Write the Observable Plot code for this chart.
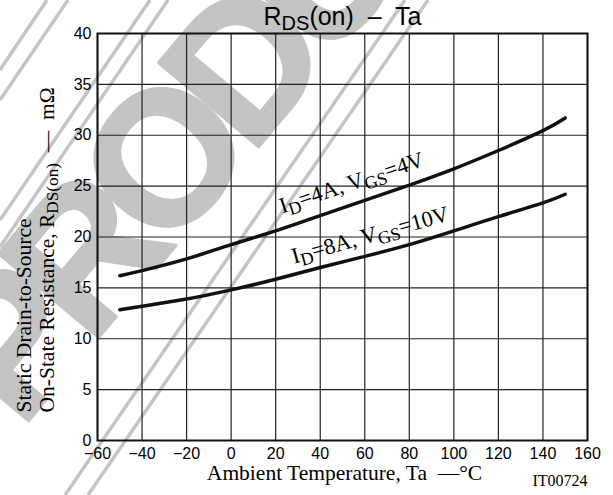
<!DOCTYPE html>
<html>
<head>
<meta charset="utf-8">
<script src="https://cdn.jsdelivr.net/npm/d3@7"></script>
<script src="https://cdn.jsdelivr.net/npm/@observablehq/plot@0.6"></script>
<style>
  html, body { margin: 0; padding: 0; background: #fff; }
  #chart { width: 613px; height: 495px; overflow: hidden; }
  #chart text { white-space: pre; }
</style>
</head>
<body>
<div id="chart"></div>
<script>
// Ambient temperature (°C) and on-state resistance (mΩ) for two bias conditions
const temperature = [-50, -40, -20, 0, 20, 40, 60, 80, 100, 120, 140, 150];
const rdsId4Vgs4 = [16.2, 16.7, 17.85, 19.25, 20.6, 22.1, 23.6, 25.1, 26.7, 28.5, 30.45, 31.7];
const rdsId8Vgs10 = [12.85, 13.2, 13.9, 14.8, 15.85, 17.0, 18.1, 19.25, 20.6, 22.0, 23.35, 24.2];

const xTicks = [-60, -40, -20, 0, 20, 40, 60, 80, 100, 120, 140, 160];
const yTicks = [0, 5, 10, 15, 20, 25, 30, 35, 40];

// "_{...}" marks a subscript run
const seriesLabels = ["I_{D}=4A, V_{GS}=4V", "I_{D}=8A, V_{GS}=10V"];
const titleText = "R_{DS}(on)  –  Ta";
const yTitleLines = ["Static Drain-to-Source", "On-State Resistance, R_{DS(on)}  —  mΩ"];
const xTitleText = "Ambient Temperature, Ta  —°C";
const figureCode = "IT00724";
const stampText = "PRODUCT";

const rowsA = temperature.map((t, i) => ({t, r: rdsId4Vgs4[i]}));
const rowsB = temperature.map((t, i) => ({t, r: rdsId8Vgs10[i]}));

const sans = "'Liberation Sans', Arial, Helvetica, sans-serif";
const serif = "'Liberation Serif', 'Times New Roman', Times, serif";
const stampGrey = "#c4c4c4";

const chart = Plot.plot({
  width: 613,
  height: 495,
  marginLeft: 97,
  marginRight: 26,
  marginTop: 33,
  marginBottom: 55,
  style: {fontFamily: sans, fontSize: "16px", color: "#000", background: "#fff", overflow: "visible"},
  x: {type: "linear", domain: [-60, 160]},
  y: {type: "linear", domain: [0, 40]},
  marks: [
    // background stamp lettering
    Plot.text([stampText], {
      text: d => d, frameAnchor: "top-left", dx: -77, dy: 397, rotate: -50,
      textAnchor: "start", lineAnchor: "bottom",
      fontSize: 190, fontWeight: "bold", fontFamily: sans,
      fill: stampGrey, stroke: stampGrey, strokeWidth: 3,
      className: "stamp"
    }),
    Plot.gridX(xTicks, {stroke: "#222", strokeOpacity: 1, strokeWidth: 1.2}),
    Plot.gridY(yTicks, {stroke: "#222", strokeOpacity: 1, strokeWidth: 1.2}),
    Plot.axisX(xTicks, {tickSize: 0, tickPadding: 7, label: null, fontSize: 16, fontFamily: sans}),
    Plot.axisY(yTicks, {tickSize: 0, tickPadding: 6, label: null, fontSize: 16, fontFamily: sans}),
    Plot.line(rowsA, {x: "t", y: "r", curve: "natural", stroke: "#111", strokeWidth: 3.5}),
    Plot.line(rowsB, {x: "t", y: "r", curve: "natural", stroke: "#111", strokeWidth: 3.5}),
    Plot.frame({stroke: "#111", strokeWidth: 2}),
    // curve annotations
    Plot.text([seriesLabels[0]], {
      text: d => d, x: () => 22.9, y: () => 22.3, rotate: -18.5,
      textAnchor: "start", lineAnchor: "bottom", fontSize: 22.5, fontFamily: serif
    }),
    Plot.text([seriesLabels[1]], {
      text: d => d, x: () => 28.2, y: () => 17.37, rotate: -15.5,
      textAnchor: "start", lineAnchor: "bottom", fontSize: 22.5, fontFamily: serif
    }),
    // title
    Plot.text([titleText], {
      text: d => d, frameAnchor: "top", dy: -9, lineAnchor: "bottom",
      fontSize: 25, fontFamily: sans
    }),
    // y-axis title, two lines
    Plot.text([yTitleLines[0]], {
      text: d => d, frameAnchor: "bottom-left", dx: -67, dy: -28, rotate: -90,
      textAnchor: "start", lineAnchor: "bottom", fontSize: 21.5, fontFamily: serif
    }),
    Plot.text([yTitleLines[1]], {
      text: d => d, frameAnchor: "bottom-left", dx: -44, dy: -28, rotate: -90,
      textAnchor: "start", lineAnchor: "bottom", fontSize: 21.5, fontFamily: serif
    }),
    // x-axis title and figure code
    Plot.text([xTitleText], {
      text: d => d, frameAnchor: "bottom", dx: 2, dy: 39, lineAnchor: "bottom",
      fontSize: 21.5, fontFamily: serif
    }),
    Plot.text([figureCode], {
      text: d => d, frameAnchor: "bottom-right", dy: 45, textAnchor: "end", lineAnchor: "bottom",
      fontSize: 16, fontFamily: serif
    })
  ]
});

document.getElementById("chart").appendChild(chart);

// tighten the stamp lettering
d3.select(chart).selectAll(".stamp text").attr("letter-spacing", -18);

// thin double stripes of the stamp, behind everything else
const stripes = [
  [0, 70, 47, 0], [0, 100, 68, 0],
  [0, 220, 150, 0], [0, 247, 168, 0],
  [65, 495, 405, 0], [88, 495, 428, 0]
];
const stripe = d3.select(chart).insert("g", "g").attr("stroke", stampGrey).attr("stroke-width", 3.5);
stripes.forEach(([x1, y1, x2, y2]) =>
  stripe.append("line").attr("x1", x1).attr("y1", y1).attr("x2", x2).attr("y2", y2));

// turn "_{...}" runs into lowered, smaller tspans
function applySubscripts(svg) {
  const ns = "http://www.w3.org/2000/svg";
  svg.querySelectorAll("text").forEach(el => {
    const s = el.textContent;
    if (!s.includes("_{")) return;
    const size = parseFloat(getComputedStyle(el).fontSize);
    const drop = 0.2 * size;
    el.textContent = "";
    let lowered = false;
    for (const part of s.split(/(_\{[^}]*\})/)) {
      if (!part) continue;
      const t = document.createElementNS(ns, "tspan");
      const isSub = part.startsWith("_{");
      t.textContent = isSub ? part.slice(2, -1) : part;
      if (isSub) {
        t.setAttribute("font-size", (0.8 * size).toFixed(2));
        if (!lowered) t.setAttribute("dy", drop.toFixed(2));
      } else if (lowered) {
        t.setAttribute("dy", (-drop).toFixed(2));
      }
      lowered = isSub;
      el.appendChild(t);
    }
  });
}
applySubscripts(chart);
</script>
</body>
</html>
